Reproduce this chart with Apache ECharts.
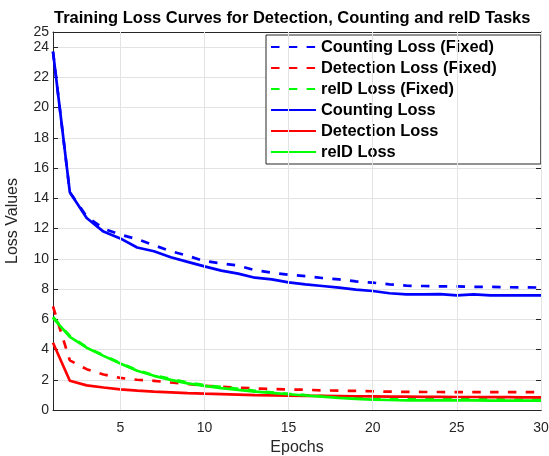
<!DOCTYPE html>
<html>
<head>
<meta charset="utf-8">
<script src="https://cdn.jsdelivr.net/npm/echarts@6/dist/echarts.min.js"></script>
<style>
html,body{margin:0;padding:0;background:#fff;}
#chart{width:549px;height:456px;}
</style>
</head>
<body>
<div id="chart"></div>
<script>
const epochs = [1,2,3,4,5,6,7,8,9,10,11,12,13,14,15,16,17,18,19,20,21,22,23,24,25,26,27,28,29,30];
const countingFixed = [23.7,14.4,12.8,12.0,11.6,11.3,10.9,10.5,10.2,9.85,9.7,9.55,9.25,9.08,8.95,8.86,8.73,8.64,8.51,8.42,8.31,8.22,8.2,8.18,8.17,8.15,8.14,8.12,8.11,8.1];
const detectionFixed = [6.85,3.28,2.7,2.35,2.12,2.0,1.93,1.82,1.72,1.6,1.54,1.48,1.43,1.38,1.36,1.34,1.3,1.28,1.26,1.24,1.21,1.2,1.19,1.19,1.18,1.18,1.18,1.18,1.18,1.18];
const reidFixed = [6.15,4.9,4.15,3.62,3.1,2.65,2.3,2.05,1.82,1.65,1.52,1.4,1.27,1.17,1.07,0.99,0.92,0.85,0.8,0.76,0.74,0.72,0.71,0.7,0.7,0.7,0.7,0.69,0.69,0.69];
const counting = [23.7,14.4,12.7,11.8,11.35,10.75,10.5,10.1,9.8,9.5,9.22,9.02,8.75,8.64,8.44,8.31,8.2,8.09,7.96,7.87,7.72,7.65,7.65,7.67,7.58,7.65,7.58,7.58,7.58,7.58];
const detection = [4.45,1.93,1.63,1.49,1.36,1.28,1.21,1.17,1.12,1.08,1.05,1.02,0.99,0.97,0.95,0.94,0.93,0.92,0.91,0.9,0.89,0.88,0.87,0.87,0.86,0.86,0.85,0.85,0.84,0.84];
const reid = [6.1,4.83,4.12,3.58,3.07,2.6,2.26,1.99,1.76,1.59,1.45,1.33,1.22,1.13,1.04,0.96,0.88,0.8,0.74,0.69,0.66,0.64,0.64,0.63,0.63,0.63,0.62,0.62,0.62,0.62];
const xTicks = [5,10,15,20,25,30];
const seriesNames = ['Counting Loss (Fixed)','Detection Loss (Fixed)','reID Loss (Fixed)','Counting Loss','Detection Loss','reID Loss'];

const AX = '#262626';
const GRIDC = '#e3e3e3';
const FONT = '"Liberation Sans", Arial, sans-serif';
const DASH = [8.5, 9.3];

function pairs(ys){ return epochs.map((e,i)=>[e, ys[i]]); }
function mk(name, ys, color, dashed){
  return {
    name, type:'line', data: pairs(ys), showSymbol:false, symbol:'none',
    lineStyle:{color, width:2.7, type: dashed ? DASH : 'solid', cap:'butt'},
    itemStyle:{color}, z:3, animation:false
  };
}

const chart = echarts.init(document.getElementById('chart'), null, {renderer:'canvas'});
chart.setOption({
  animation:false,
  backgroundColor:'#ffffff',
  title:{
    text:'Training Loss Curves for Detection, Counting and reID Tasks',
    left:54, top:10, padding:0,
    textStyle:{fontFamily:FONT, fontSize:16.5, fontWeight:'bold', color:'#000'}
  },
  grid:{left:53, right:8, top:32, bottom:46, containLabel:false, outerBoundsMode:'none'},
  legend:{
    orient:'vertical', left:266, top:35,
    data: seriesNames,
    backgroundColor:'#ffffff', borderColor:AX, borderWidth:1,
    padding:[4,44,4,4],
    itemWidth:45, itemHeight:16, itemGap:5,
    itemStyle:{opacity:0, borderWidth:0},
    textStyle:{fontFamily:FONT, fontSize:16.4, fontWeight:'bold', color:'#000', lineHeight:16}
  },
  xAxis:[{
    type:'value', min:1, max:30,
    name:'Epochs', nameLocation:'middle', nameGap:30,
    nameTextStyle:{fontFamily:FONT, fontSize:16, color:AX},
    axisLine:{show:true, onZero:false, lineStyle:{color:AX, width:1}},
    axisTick:{show:true, inside:true, length:5, customValues:xTicks, lineStyle:{color:AX}},
    axisLabel:{show:true, customValues:xTicks, margin:11, fontFamily:FONT, fontSize:14, color:AX},
    splitLine:{show:false}
  },{
    type:'value', min:1, max:30, position:'top',
    axisLine:{show:true, onZero:false, lineStyle:{color:AX, width:1}},
    axisTick:{show:true, inside:true, length:5, customValues:xTicks, lineStyle:{color:AX}},
    axisLabel:{show:false},
    splitLine:{show:false}
  }],
  yAxis:[{
    type:'value', min:0, max:25, interval:2,
    name:'Loss Values', nameLocation:'middle', nameGap:32,
    nameTextStyle:{fontFamily:FONT, fontSize:16, color:AX},
    axisLine:{show:true, onZero:false, lineStyle:{color:AX, width:1}},
    axisTick:{show:true, inside:true, length:5, lineStyle:{color:AX}},
    axisLabel:{show:true, margin:4, fontFamily:FONT, fontSize:14, color:AX, showMaxLabel:true},
    splitLine:{show:true, lineStyle:{color:GRIDC, width:1}}
  },{
    type:'value', min:0, max:25, interval:2, position:'right',
    axisLine:{show:true, onZero:false, lineStyle:{color:AX, width:1}},
    axisTick:{show:true, inside:true, length:5, lineStyle:{color:AX}},
    axisLabel:{show:false},
    splitLine:{show:false}
  }],
  series:[
    {
      name:'_grid', type:'line', data:[], z:1, silent:true,
      markLine:{
        silent:true, symbol:['none','none'], label:{show:false}, animation:false,
        lineStyle:{color:GRIDC, width:1, type:'solid'},
        data: xTicks.map(v=>({xAxis:v}))
      }
    },
    mk(seriesNames[0], countingFixed, '#0000ff', true),
    mk(seriesNames[1], detectionFixed, '#ff0000', true),
    mk(seriesNames[2], reidFixed, '#00ff00', true),
    mk(seriesNames[3], counting, '#0000ff', false),
    mk(seriesNames[4], detection, '#ff0000', false),
    mk(seriesNames[5], reid, '#00ff00', false)
  ]
});
</script>
</body>
</html>
